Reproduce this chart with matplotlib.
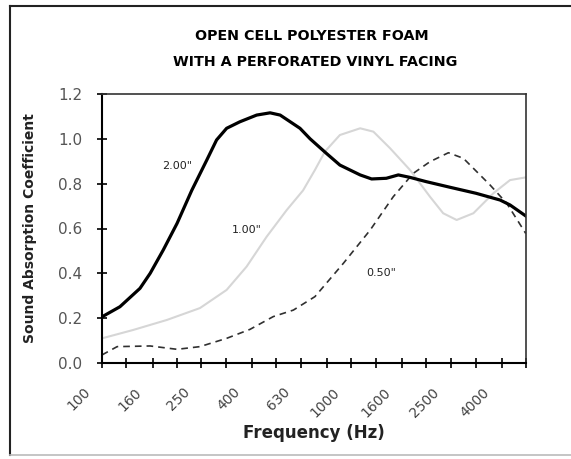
import matplotlib
matplotlib.use("Agg")
import matplotlib.pyplot as plt
import matplotlib.transforms as mtransforms
from matplotlib.lines import Line2D

# 1/3 octave band ticks
bands = [100, 125, 160, 200, 250, 315, 400, 500, 630, 800,
         1000, 1250, 1600, 2000, 2500, 3150, 4000, 5000]
shown = [100, 160, 250, 400, 630, 1000, 1600, 2500, 4000]

# 2.00" foam
f_200 = [100, 118, 142, 156, 176, 200, 229, 263, 288, 316, 357, 417, 472, 518,
         622, 683, 794, 899, 1084, 1205, 1380, 1542, 1718, 1995, 2483, 3162,
         3945, 4325, 5000]
a_200 = [0.206, 0.251, 0.333, 0.40, 0.504, 0.623, 0.77, 0.905, 0.995, 1.047,
         1.076, 1.106, 1.116, 1.106, 1.047, 1.00, 0.935, 0.883, 0.839, 0.821,
         0.824, 0.839, 0.828, 0.809, 0.784, 0.757, 0.727, 0.705, 0.656]

# 1.00" foam
f_100 = [100, 133, 182, 247, 316, 380, 457, 550, 640, 714, 783, 899, 1084,
         1225, 1429, 1718, 2065, 2333, 2642, 3083, 3707, 4325, 5000]
a_100 = [0.11, 0.147, 0.192, 0.245, 0.326, 0.43, 0.563, 0.682, 0.77, 0.861,
         0.943, 1.017, 1.047, 1.032, 0.958, 0.861, 0.742, 0.668, 0.638, 0.668,
         0.757, 0.816, 0.828]

# 0.50" foam
f_050 = [100, 115, 156, 200, 247, 316, 392, 486, 585, 714, 929, 1189, 1472,
         1770, 2065, 2449, 2812, 3597, 4198, 5000]
a_050 = [0.036, 0.073, 0.076, 0.061, 0.073, 0.11, 0.15, 0.207, 0.236, 0.296,
         0.445, 0.593, 0.742, 0.846, 0.898, 0.938, 0.913, 0.794, 0.712, 0.578]

fig = plt.figure(figsize=(5.71, 4.59), dpi=100)
ax = fig.add_axes([102/571, 1-363/459, 424/571, 269/459])

ax.plot(f_100, a_100, color="#d6d6d6", lw=1.5)
ax.plot(f_050, a_050, color="#303030", lw=1.2, ls=(0, (4, 3)))
ax.plot(f_200, a_200, color="black", lw=2.3)

ax.text(200, 0.88, '2.00"', fontsize=8, ha="center", va="center", color="#222222")
ax.text(380, 0.593, '1.00"', fontsize=8, ha="center", va="center", color="#222222")
ax.text(1318, 0.40, '0.50"', fontsize=8, ha="center", va="center", color="#222222")

ax.set_xscale("log")
ax.set_xlim(100, 5012)
ax.set_ylim(0, 1.2)
ax.xaxis.set_minor_locator(plt.NullLocator())
ax.set_xticks(bands)
ax.set_xticklabels([])

# rotated band labels, placed below and left of each tick
trans = mtransforms.blended_transform_factory(ax.transData, ax.transAxes)
trans = trans + mtransforms.ScaledTranslation(-9/100, -22/100, fig.dpi_scale_trans)
for b in shown:
    ax.text(b, 0, str(b), transform=trans, rotation=45, ha="right", va="top",
            fontsize=10, color="#444444", clip_on=False)

ax.set_yticks([0, 0.2, 0.4, 0.6, 0.8, 1.0, 1.2])
ax.set_yticklabels(["0.0", "0.2", "0.4", "0.6", "0.8", "1.0", "1.2"],
                   fontsize=11, color="#555555")
ax.tick_params(axis="both", direction="inout", length=7, width=1.2)
ax.tick_params(axis="y", pad=10.5)
for s in ["left", "bottom"]:
    ax.spines[s].set_linewidth(1.5)
for s in ["top", "right"]:
    ax.spines[s].set_linewidth(1.2)
    ax.spines[s].set_color("#333333")

ax.set_xlabel("Frequency (Hz)", fontsize=12, fontweight="bold", color="#222222")
ax.xaxis.set_label_coords(0.5, -0.225)
ax.set_ylabel("Sound Absorption Coefficient", fontsize=10, fontweight="bold",
              color="#222222")
ax.yaxis.set_label_coords(-65/424, 0.5)

fig.text(312/571, 1-36/459, "OPEN CELL POLYESTER FOAM", fontsize=10.3,
         fontweight="bold", ha="center", va="center")
fig.text(315/571, 1-62/459, "WITH A PERFORATED VINYL FACING", fontsize=10.3,
         fontweight="bold", ha="center", va="center")

# outer frame
fig.add_artist(Line2D([10/571, 1], [1-6/459, 1-6/459], color="#222222", lw=1.5))
fig.add_artist(Line2D([10/571, 10/571], [1-6/459, 1-455/459], color="#222222", lw=1.5))
fig.add_artist(Line2D([10/571, 1], [1-455/459, 1-455/459], color="#bbbbbb", lw=1.2))

fig.savefig("out.png", dpi=100)
